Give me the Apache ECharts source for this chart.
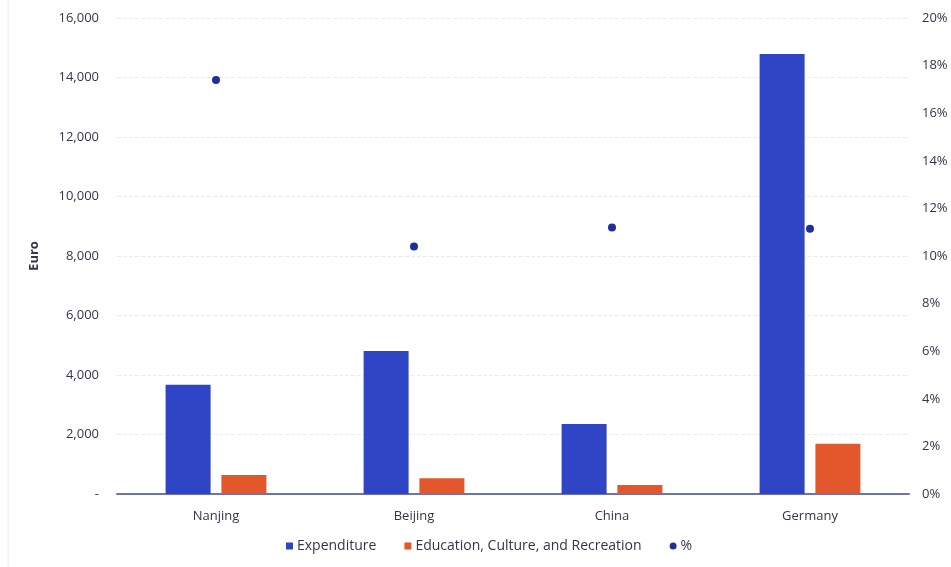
<!DOCTYPE html>
<html>
<head>
<meta charset="utf-8">
<script src="https://cdn.jsdelivr.net/npm/echarts@6/dist/echarts.min.js"></script>
<style>
  html, body { margin: 0; padding: 0; background: #ffffff; }
  #chart { width: 951px; height: 567px; }
</style>
</head>
<body>
<div id="chart"></div>
<script>
// Household spending per capita (Euro) and share spent on education, culture and recreation
const categories = ['Nanjing', 'Beijing', 'China', 'Germany'];
const expenditure = [3670, 4810, 2350, 14790];
const educationCultureRecreation = [640, 530, 300, 1690];
const sharePercent = [17.4, 10.4, 11.2, 11.15];

const euroTicks = { min: 0, max: 16000, interval: 2000 };
const percentTicks = { min: 0, max: 20, interval: 2 };

const textColor = '#34354a';
const fontFamily = '"Open Sans", Lato, sans-serif';

const chart = echarts.init(document.getElementById('chart'), null, { renderer: 'canvas' });

chart.setOption({
  backgroundColor: '#ffffff',
  animation: false,
  textStyle: { fontFamily: fontFamily, color: textColor },
  graphic: [{
    type: 'line',
    shape: { x1: 8, y1: 0, x2: 8, y2: 567 },
    style: { stroke: '#e8eff6', lineWidth: 1 }
  }],
  grid: { left: 117, right: 42, top: 18, bottom: 73 },
  legend: {
    bottom: 9,
    left: 281,
    itemWidth: 7,
    itemHeight: 7,
    itemGap: 28,
    textStyle: { fontSize: 14, color: textColor, fontFamily: fontFamily, padding: [0, 0, 0, -1] },
    data: [
      { name: 'Expenditure', icon: 'rect' },
      { name: 'Education, Culture, and Recreation', icon: 'rect' },
      { name: '%', icon: 'circle' }
    ]
  },
  xAxis: {
    type: 'category',
    data: categories,
    axisLine: { show: true, lineStyle: { color: '#6d72b0', width: 2 } },
    axisTick: { show: false },
    axisLabel: { fontSize: 13, color: textColor, margin: 16 }
  },
  yAxis: [
    {
      type: 'value',
      min: euroTicks.min,
      max: euroTicks.max,
      interval: euroTicks.interval,
      name: 'Euro',
      nameLocation: 'middle',
      nameGap: 76,
      nameRotate: 90,
      nameTextStyle: { fontSize: 13, fontWeight: 'bold', color: textColor },
      axisLine: { show: false },
      axisTick: { show: false },
      axisLabel: {
        fontSize: 13,
        color: textColor,
        margin: 18,
        formatter: function (v) { return v === 0 ? '-' : v.toLocaleString('en-US'); }
      },
      splitLine: { show: true, lineStyle: { color: '#e6edf4', type: 'dashed', width: 1 } }
    },
    {
      type: 'value',
      min: percentTicks.min,
      max: percentTicks.max,
      interval: percentTicks.interval,
      position: 'right',
      axisLine: { show: false },
      axisTick: { show: false },
      axisLabel: { fontSize: 13, color: textColor, margin: 13, formatter: '{value}%' },
      splitLine: { show: false }
    }
  ],
  series: [
    {
      name: 'Expenditure',
      type: 'bar',
      data: expenditure,
      barWidth: 45,
      barGap: '24%',
      itemStyle: { color: '#2f45c6' }
    },
    {
      name: 'Education, Culture, and Recreation',
      type: 'bar',
      data: educationCultureRecreation,
      barWidth: 45,
      itemStyle: { color: '#e2572b' }
    },
    {
      name: '%',
      type: 'scatter',
      yAxisIndex: 1,
      data: sharePercent,
      symbol: 'circle',
      symbolSize: 8,
      itemStyle: { color: '#1f2f9c', opacity: 1 }
    }
  ]
});
</script>
</body>
</html>
